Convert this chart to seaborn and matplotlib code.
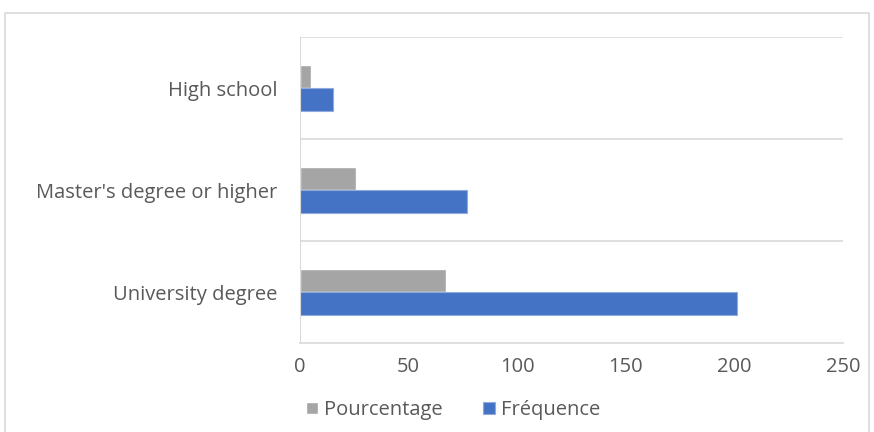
import matplotlib
matplotlib.use("Agg")
import matplotlib.pyplot as plt
from matplotlib.patches import Rectangle
import seaborn as sns
import pandas as pd

categories = ["High school", "Master's degree or higher", "University degree"]
pourcentage = [5, 26, 67]
frequence = [15, 77, 201]
series_names = ["Pourcentage", "Fréquence"]
x_ticks = [0, 50, 100, 150, 200, 250]

df = pd.DataFrame({
    "Niveau": categories * 2,
    "Valeur": pourcentage + frequence,
    "Série": [series_names[0]] * len(categories) + [series_names[1]] * len(categories),
})

sns.set_theme(style="white")
plt.rcParams["font.family"] = ["Open Sans", "DejaVu Sans"]

text_color = "#595959"
grid_color = "#D9D9D9"
palette = {"Pourcentage": "#A5A5A5", "Fréquence": "#4472C4"}
fs = 14.5

fig = plt.figure(figsize=(8.74, 4.32), dpi=100)
ax = fig.add_axes([300 / 874, 1 - 343 / 432, 543 / 874, 306 / 432])

sns.barplot(data=df, y="Niveau", x="Valeur", hue="Série", order=categories,
            hue_order=series_names, palette=palette, orient="h", width=0.45,
            saturation=1, ax=ax, legend=True)

for p in ax.patches:
    if p.get_facecolor()[2] > 0.7:
        p.set_edgecolor("#8FAADC")
        p.set_linewidth(0.8)

ax.set_xlim(0, 250)
ax.set_ylim(2.5, -0.5)
ax.set_xticks(x_ticks)
ax.set_xlabel("")
ax.set_ylabel("")

for s in ["top", "right", "left"]:
    ax.spines[s].set_visible(False)
ax.spines["bottom"].set_color(grid_color)
ax.spines["bottom"].set_linewidth(1.2)

# horizontal separators between categories, with short tick stubs on the left
for yv in [-0.5, 0.5, 1.5]:
    ax.axhline(yv, color=grid_color, lw=1.2, zorder=0)
ax.set_yticks([0.5, 1.5], minor=True)
ax.tick_params(axis="y", which="minor", length=6.5, color=grid_color, width=1.2)
ax.tick_params(axis="y", which="major", length=0, pad=16.5, labelsize=fs, labelcolor=text_color)
ax.tick_params(axis="x", length=0, pad=10, labelsize=fs, labelcolor=text_color)
ax.axvline(0, color=grid_color, lw=1.5, zorder=1)

handles, labels = ax.get_legend_handles_labels()
ax.get_legend().remove()
fig.legend(handles, labels, loc="center", bbox_to_anchor=(453 / 874, 1 - 410 / 432),
           ncol=2, frameon=False, fontsize=fs, labelcolor=text_color,
           handlelength=0.6, handleheight=0.6, handletextpad=0.3, columnspacing=2.0)

# outer chart frame
fig.patches.append(Rectangle((5 / 874, -0.1), 864 / 874, 1.1 - 13 / 432,
                             transform=fig.transFigure, fill=False,
                             edgecolor=grid_color, lw=1.2))

fig.savefig("out.png", dpi=100)
